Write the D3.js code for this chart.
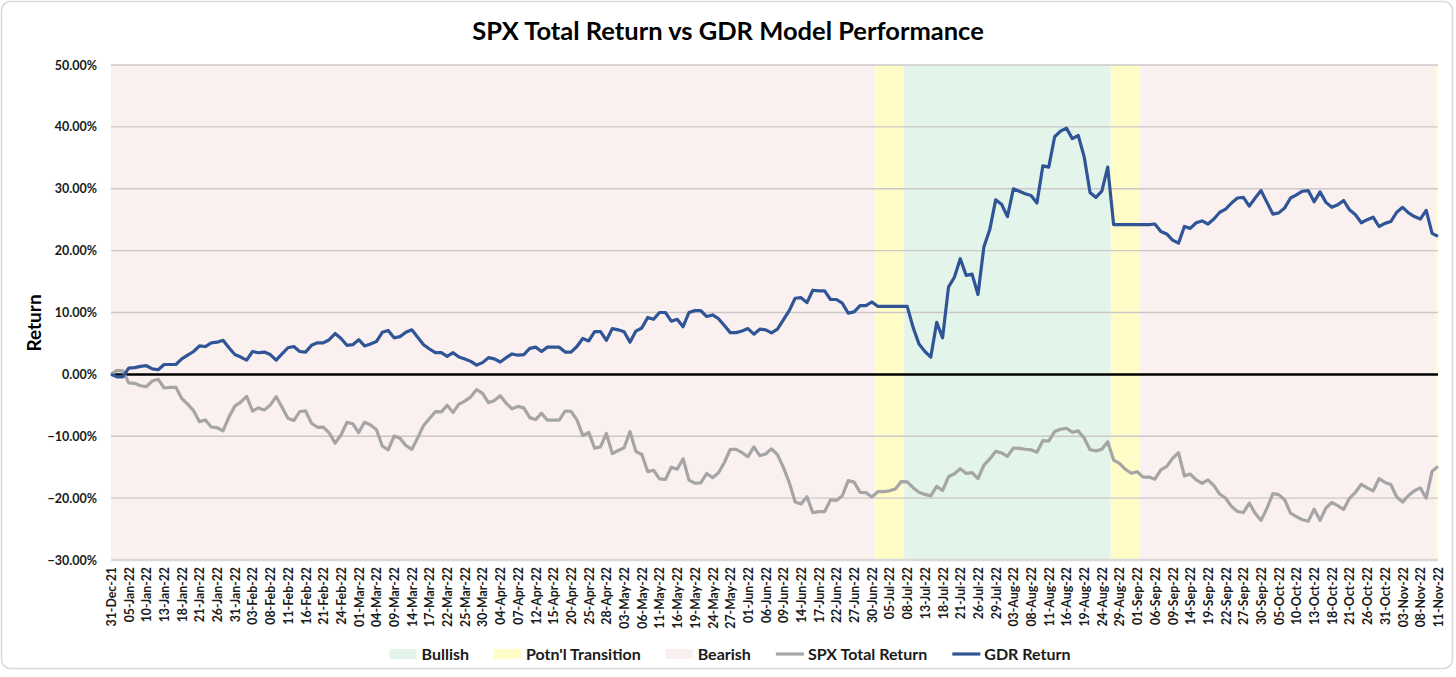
<!DOCTYPE html>
<html>
<head>
<meta charset="utf-8">
<script src="https://cdn.jsdelivr.net/npm/d3@7"></script>
<style>
  body { margin: 0; background: #fff; }
  text { font-family: Lato, "Open Sans", sans-serif; }
</style>
</head>
<body>
<script>
// Trading-day categories (every weekday, holidays kept flat)
var firstDay = new Date(2021, 11, 31),
    lastDay = new Date(2022, 10, 12);

// SPX total return, % since 31-Dec-21
var spxReturn = [
  0.00,0.65,0.58,-1.36,-1.45,-1.84,-1.97,-1.07,-0.79,-2.20,
  -2.11,-2.10,-3.90,-4.82,-5.87,-7.64,-7.37,-8.50,-8.62,-9.11,
  -6.89,-5.13,-4.48,-3.57,-5.92,-5.42,-5.76,-4.97,-3.59,-5.33,
  -7.11,-7.46,-6.00,-5.91,-7.90,-8.55,-8.54,-9.46,-11.11,-9.79,
  -7.76,-7.98,-9.40,-7.71,-8.19,-8.91,-11.58,-12.21,-9.96,-10.34,
  -11.49,-12.13,-10.26,-8.25,-7.12,-6.03,-6.06,-5.00,-6.15,-4.81,
  -4.32,-3.63,-2.45,-3.06,-4.57,-4.23,-3.45,-4.66,-5.57,-5.17,
  -5.41,-6.99,-7.31,-6.27,-7.40,-7.39,-7.40,-5.92,-5.97,-7.35,
  -9.89,-9.37,-11.91,-11.72,-9.54,-12.80,-12.30,-11.87,-9.25,-12.46,
  -12.95,-15.71,-15.50,-16.88,-16.98,-15.00,-15.33,-13.63,-17.09,-17.57,
  -17.54,-16.02,-16.69,-15.90,-14.24,-12.13,-12.12,-12.66,-13.30,-11.72,
  -13.14,-12.86,-12.03,-12.97,-15.02,-17.47,-20.63,-20.93,-19.77,-22.36,
  -22.18,-22.17,-20.28,-20.37,-19.62,-17.18,-17.41,-19.06,-19.11,-19.81,
  -18.96,-18.95,-18.82,-18.53,-17.32,-17.38,-18.31,-19.06,-19.40,-19.64,
  -18.11,-18.77,-16.55,-16.06,-15.24,-16.01,-15.89,-16.85,-14.69,-13.67,
  -12.44,-12.68,-13.25,-11.90,-11.97,-12.10,-12.20,-12.57,-10.71,-10.78,
  -9.24,-8.87,-8.70,-9.35,-9.14,-10.29,-12.18,-12.37,-12.11,-10.89,
  -13.85,-14.40,-15.34,-15.98,-15.73,-16.61,-16.60,-16.94,-15.43,-14.88,
  -13.58,-12.67,-16.40,-16.11,-17.05,-17.62,-17.06,-17.98,-19.35,-20.02,
  -21.37,-22.16,-22.33,-20.81,-22.46,-23.60,-21.64,-19.28,-19.43,-20.25,
  -22.44,-23.00,-23.49,-23.73,-21.78,-23.59,-21.59,-20.71,-21.22,-21.84,
  -20.00,-19.06,-17.76,-18.35,-18.84,-16.86,-17.46,-17.79,-19.81,-20.64,
  -19.57,-18.80,-18.35,-20.01,-15.65,-14.87
];

// GDR model return, % since 31-Dec-21
var gdrReturn = [
  0.0,-0.4,-0.4,1.0,1.1,1.3,1.4,0.9,0.75,1.6,
  1.6,1.6,2.5,3.1,3.7,4.6,4.5,5.1,5.2,5.5,
  4.3,3.2,2.8,2.3,3.7,3.5,3.6,3.2,2.3,3.3,
  4.3,4.5,3.7,3.6,4.7,5.1,5.1,5.6,6.6,5.8,
  4.7,4.8,5.6,4.6,4.9,5.3,6.8,7.1,5.9,6.1,
  6.8,7.2,6.0,4.8,4.1,3.5,3.5,2.9,3.5,2.8,
  2.5,2.1,1.5,1.9,2.7,2.5,2.0,2.7,3.3,3.1,
  3.2,4.2,4.4,3.7,4.4,4.4,4.4,3.6,3.6,4.5,
  5.8,5.4,6.9,6.9,5.5,7.4,7.2,6.9,5.2,7.0,
  7.5,9.2,8.9,10.0,10.0,8.6,8.9,7.7,10.0,10.3,
  10.3,9.35,9.6,9.0,7.9,6.75,6.75,7.0,7.4,6.5,
  7.3,7.2,6.7,7.3,8.8,10.3,12.3,12.4,11.6,13.6,
  13.5,13.5,12.1,12.1,11.5,9.9,10.1,11.1,11.1,11.7,
  11.0,11.0,11.0,11.0,11.0,11.0,7.6,4.9,3.7,2.8,
  8.4,5.9,14.1,15.7,18.7,16.0,16.2,12.9,20.6,23.4,
  28.2,27.5,25.5,30.0,29.6,29.2,28.9,27.7,33.7,33.5,
  38.4,39.3,39.8,38.1,38.6,35.2,29.4,28.6,29.6,33.5,
  24.2,24.2,24.2,24.2,24.2,24.2,24.2,24.3,23.1,22.7,
  21.7,21.2,23.9,23.6,24.5,24.8,24.3,25.1,26.2,26.7,
  27.7,28.5,28.6,27.2,28.5,29.7,27.8,25.9,26.1,26.9,
  28.5,29.0,29.6,29.7,27.9,29.5,27.8,27.0,27.4,28.1,
  26.6,25.8,24.5,25.0,25.4,23.9,24.4,24.7,26.2,27.0,
  26.1,25.5,25.1,26.5,22.8,22.3
];

// Model regimes (background shading)
var regimeType = ["Bearish", "Potn'l Transition", "Bullish", "Potn'l Transition", "Bearish", "Potn'l Transition"];
var regimeFrom = ["31-Dec-21", "01-Jul-22", "08-Jul-22", "26-Aug-22", "02-Sep-22", "11-Nov-22"];
var regimeTo   = ["30-Jun-22", "07-Jul-22", "25-Aug-22", "01-Sep-22", "10-Nov-22", "11-Nov-22"];

var yTicks = [-30, -20, -10, 0, 10, 20, 30, 40, 50];

var regimeColor = {
  "Bullish": "#e3f4ea",
  "Potn'l Transition": "#fffcc8",
  "Bearish": "#fbf0f0"
};

window.onload = drawChart();

function drawChart(){

  var width = 1456,
      height = 677;

  // plot frame
  var left = 111, right = 1438, top = 65, bottom = 560;

  var fmt = d3.timeFormat("%d-%b-%y");
  // weekdays only
  var weekday = d3.timeDay.filter(function(d){ return d.getDay() != 0 && d.getDay() != 6; });
  var days = weekday.range(firstDay, lastDay).map(fmt);

  var svg = d3.select("body")
    .append("svg")
    .attr("width", width)
    .attr("height", height);

  // outer chart border
  svg.append("rect")
    .attr("x", 1.5).attr("y", 1.5)
    .attr("width", width - 5).attr("height", height - 10)
    .attr("rx", 9)
    .attr("fill", "#fff")
    .attr("stroke", "#d9d9d9")
    .attr("stroke-width", 1.5);

  var x = d3.scalePoint()
    .domain(days)
    .range([left, right]);

  var y = d3.scaleLinear()
    .domain([-30, 50])
    .range([bottom, top]);

  var step = x.step();

  // regime bands
  var bands = svg.append("g");
  regimeType.forEach(function(t, i){
    var x0 = Math.max(left, x(regimeFrom[i]) - step / 2),
        x1 = Math.min(right, x(regimeTo[i]) + step / 2);
    bands.append("rect")
      .attr("x", x0)
      .attr("y", top)
      .attr("width", x1 - x0)
      .attr("height", bottom - top)
      .attr("fill", regimeColor[t]);
  });

  // gridlines
  svg.append("g")
    .selectAll("line")
    .data(yTicks.filter(function(d){ return d != 0 && d != -30; }))
    .enter().append("line")
    .attr("x1", left).attr("x2", right)
    .attr("y1", function(d){ return y(d); })
    .attr("y2", function(d){ return y(d); })
    .attr("stroke", "#cdc8c8")
    .attr("stroke-width", 1.3);

  // bottom axis line
  svg.append("line")
    .attr("x1", left).attr("x2", right)
    .attr("y1", y(-30)).attr("y2", y(-30))
    .attr("stroke", "#d9d9d9")
    .attr("stroke-width", 2.5);

  // y axis labels
  var yAxis = svg.append("g")
    .attr("transform", "translate(" + left + ",0)")
    .call(d3.axisLeft(y)
      .tickValues(yTicks)
      .tickSize(0)
      .tickPadding(14)
      .tickFormat(function(d){ return d3.format(".2f")(d) + "%"; }));
  yAxis.select(".domain").remove();
  yAxis.selectAll("text")
    .attr("font-family", "Lato, sans-serif")
    .attr("font-size", 12.5)
    .attr("font-weight", "bold")
    .attr("fill", "#1a1a1a");

  // x axis labels, every third trading day
  var xAxis = svg.append("g")
    .attr("transform", "translate(0," + bottom + ")")
    .call(d3.axisBottom(x)
      .tickValues(days.filter(function(d, i){ return i % 3 == 0; }))
      .tickSize(0));
  xAxis.select(".domain").remove();
  xAxis.selectAll("text")
    .attr("transform", "rotate(-90)")
    .attr("text-anchor", "end")
    .attr("x", -7)
    .attr("y", 0)
    .attr("dy", "0.36em")
    .attr("font-family", "Lato, sans-serif")
    .attr("font-size", 12.3)
    .attr("font-weight", "bold")
    .attr("fill", "#1a1a1a");

  // zero line
  svg.append("line")
    .attr("x1", left).attr("x2", right)
    .attr("y1", y(0)).attr("y2", y(0))
    .attr("stroke", "#000")
    .attr("stroke-width", 2.5);

  var line = d3.line()
    .x(function(d, i){ return x(days[i]); })
    .y(function(d){ return y(d); });

  svg.append("path")
    .datum(spxReturn)
    .attr("fill", "none")
    .attr("stroke", "#a5a5a5")
    .attr("stroke-width", 3.2)
    .attr("stroke-linejoin", "round")
    .attr("d", line);

  svg.append("path")
    .datum(gdrReturn)
    .attr("fill", "none")
    .attr("stroke", "#2f5597")
    .attr("stroke-width", 3.2)
    .attr("stroke-linejoin", "round")
    .attr("d", line);

  // title
  svg.append("text")
    .attr("x", 728)
    .attr("y", 40)
    .attr("text-anchor", "middle")
    .attr("font-size", 25.5)
    .attr("font-weight", "bold")
    .attr("fill", "#000")
    .text("SPX Total Return vs GDR Model Performance");

  // y title
  svg.append("text")
    .attr("transform", "translate(41,323) rotate(-90)")
    .attr("text-anchor", "middle")
    .attr("font-size", 19)
    .attr("font-weight", "bold")
    .attr("fill", "#000")
    .text("Return");

  // legend
  var legendItems = [
    {name: "Bullish", kind: "box", color: regimeColor["Bullish"]},
    {name: "Potn'l Transition", kind: "box", color: regimeColor["Potn'l Transition"]},
    {name: "Bearish", kind: "box", color: regimeColor["Bearish"]},
    {name: "SPX Total Return", kind: "line", color: "#a5a5a5"},
    {name: "GDR Return", kind: "line", color: "#2f5597"}
  ];

  var legend = svg.append("g");
  var lx = 0, ly = 654;
  legendItems.forEach(function(d){
    if (d.kind == "box") {
      legend.append("rect")
        .attr("x", lx).attr("y", ly - 5)
        .attr("width", 27).attr("height", 10)
        .attr("fill", d.color);
    } else {
      legend.append("line")
        .attr("x1", lx).attr("x2", lx + 28)
        .attr("y1", ly).attr("y2", ly)
        .attr("stroke", d.color)
        .attr("stroke-width", 3.2);
    }
    var t = legend.append("text")
      .attr("x", lx + 32)
      .attr("y", ly)
      .attr("dy", "0.36em")
      .attr("font-size", 16)
      .attr("font-weight", "bold")
      .attr("fill", "#1a1a1a")
      .text(d.name);
    lx += 32 + t.node().getComputedTextLength() + 25;
  });
  lx -= 25;
  legend.attr("transform", "translate(" + (730 - lx / 2) + ",0)");
};
</script>
</body>
</html>
